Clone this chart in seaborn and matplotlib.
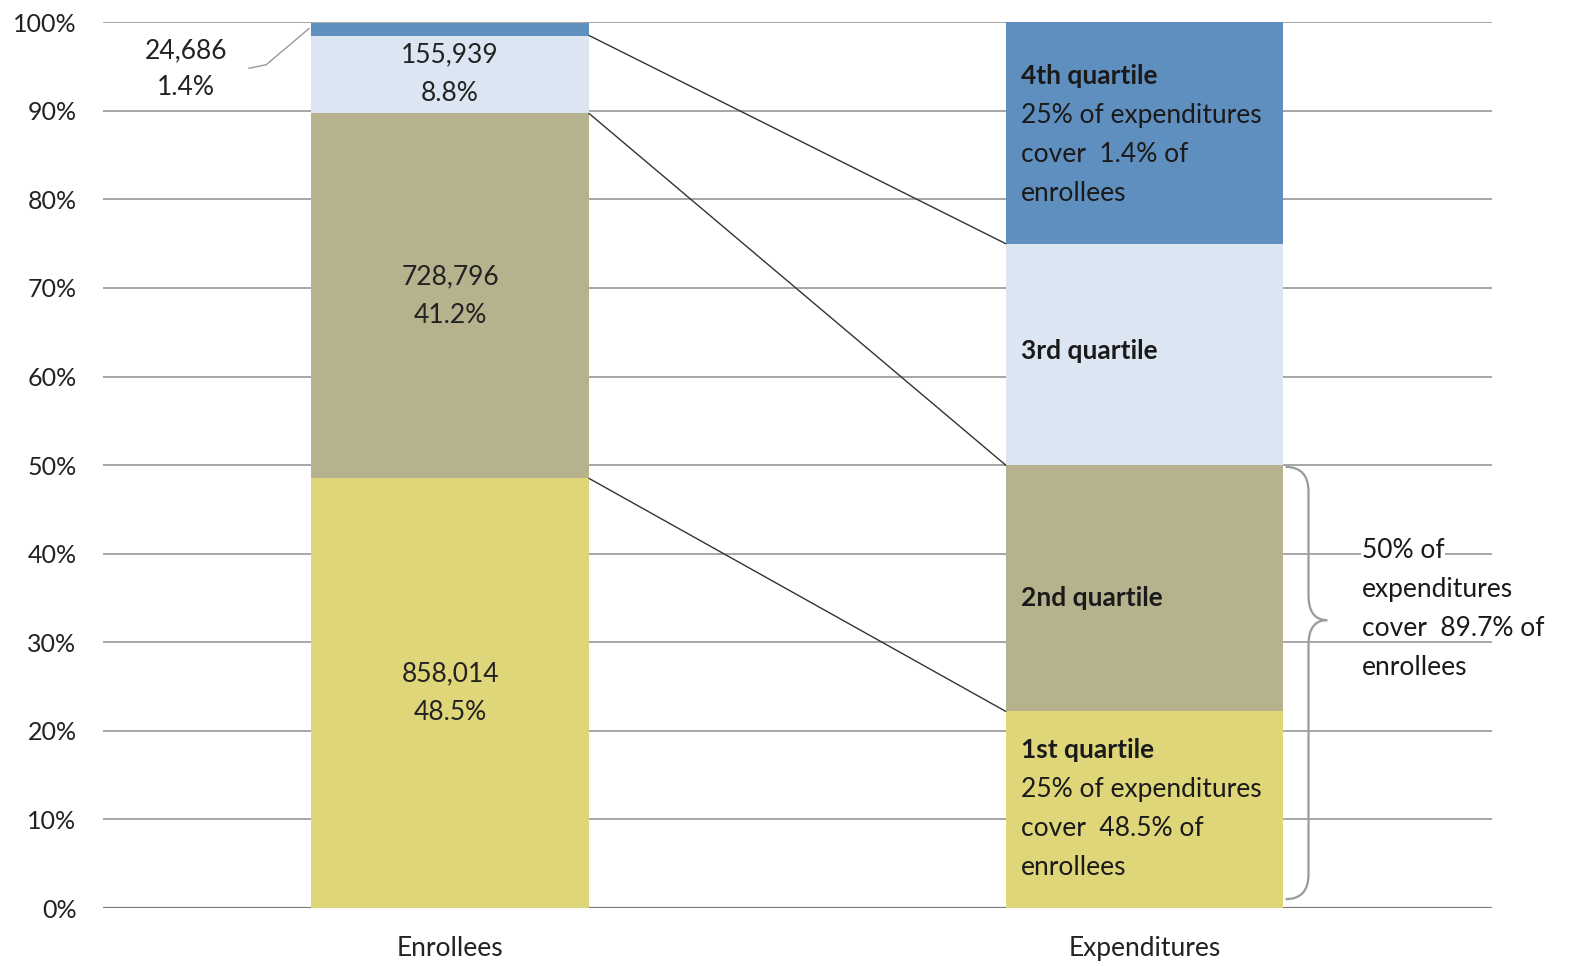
import matplotlib
matplotlib.use("Agg")
import matplotlib.pyplot as plt
from matplotlib.path import Path
from matplotlib.patches import PathPatch
import seaborn as sns
import pandas as pd
import numpy as np

# ---- data ----
bars = ["Enrollees", "Expenditures"]
quartiles = ["1st quartile", "2nd quartile", "3rd quartile", "4th quartile"]
enrollee_pct = [48.5, 41.2, 8.8, 1.4]
expenditure_pct = [22.2, 27.8, 25.0, 25.0]
enrollee_counts = ["858,014", "728,796", "155,939", "24,686"]
colors = ["#DFD67A", "#B5B28D", "#DCE6F2", "#5F8FBF"]
y_ticks = [0, 10, 20, 30, 40, 50, 60, 70, 80, 90, 100]
y_tick_labels = ["0%", "10%", "20%", "30%", "40%", "50%", "60%", "70%", "80%", "90%", "100%"]
exp_notes = {
    3: ["25% of expenditures", "cover  1.4% of", "enrollees"],
    0: ["25% of expenditures", "cover  48.5% of", "enrollees"],
}
brace_note = ["50% of", "expenditures", "cover  89.7% of", "enrollees"]

sns.set_theme(style="white")
plt.rcParams["font.family"] = ["Lato", "DejaVu Sans"]

fig = plt.figure(figsize=(15.72, 9.66), dpi=100)
ax = fig.add_axes([0.0655, 0.060, 0.8835, 0.917])

cum_enr = np.cumsum(enrollee_pct)
cum_exp = np.cumsum(expenditure_pct)

# stacked bars: draw cumulative tops from largest to smallest
for i in range(len(quartiles) - 1, -1, -1):
    df = pd.DataFrame({"bar": bars, "top": [cum_enr[i], cum_exp[i]]})
    sns.barplot(data=df, x="bar", y="top", order=bars, color=colors[i],
                saturation=1, width=0.4, ax=ax, linewidth=0, zorder=3)

ax.set_xlim(-0.5, 1.5)
ax.set_ylim(0, 100)
ax.set_yticks(y_ticks)
ax.set_yticklabels(y_tick_labels)
ax.set_xlabel("")
ax.set_ylabel("")
for s in ax.spines.values():
    s.set_visible(False)
ax.yaxis.grid(True, color="#a6a6a6", linewidth=1.4, zorder=0)
ax.set_axisbelow(True)
ax.axhline(0, color="#7a7a7a", linewidth=1.6, zorder=1)
ax.tick_params(axis="both", length=0, colors="#222222")
ax.tick_params(axis="y", pad=19, labelsize=18)
ax.tick_params(axis="x", pad=20, labelsize=19)

# connector lines between bars
for i in range(3):
    ax.plot([0.2, 0.8], [cum_enr[i], cum_exp[i]], color="#333333", lw=1.0, zorder=4)

# enrollee labels (inside bars)
fs = 19
for i in range(3):
    lo = cum_enr[i] - enrollee_pct[i]
    mid = (lo + cum_enr[i]) / 2
    ax.text(0, mid + 2.2, enrollee_counts[i], ha="center", va="center", fontsize=fs, color="#222222", zorder=5)
    ax.text(0, mid - 2.2, f"{enrollee_pct[i]}%", ha="center", va="center", fontsize=fs, color="#222222", zorder=5)
# small top segment labelled outside
ax.text(-0.38, 96.8, enrollee_counts[3], ha="center", va="center", fontsize=fs, color="#222222")
ax.text(-0.38, 92.6, f"{enrollee_pct[3]}%", ha="center", va="center", fontsize=fs, color="#222222")
ax.plot([-0.29, -0.265, -0.203], [94.8, 95.2, 99.3], color="#999999", lw=1.0)

# expenditure labels
step = 4.4
xl = 0.822
def block(x, ytop, title, lines):
    ax.text(x, ytop, title, ha="left", va="center", fontsize=fs, fontweight="bold", color="#1a1a1a", zorder=5)
    for k, ln in enumerate(lines):
        ax.text(x, ytop - step * (k + 1), ln, ha="left", va="center", fontsize=fs, color="#1a1a1a", zorder=5)

block(xl, 93.9, quartiles[3], exp_notes[3])
block(xl, 62.9, quartiles[2], [])
block(xl, 35.0, quartiles[1], [])
block(xl, 17.8, quartiles[0], exp_notes[0])

# curly brace for lower half of expenditures
xb0, xb1, xt = 1.203, 1.236, 1.263
yt, yb, ym = 49.8, 1.0, 32.5
r = 2.8
verts = [(xb0, yt), (xb1, yt), (xb1, yt - r),
         (xb1, ym + r), (xb1, ym), (xt, ym),
         (xb1, ym), (xb1, ym - r),
         (xb1, yb + r), (xb1, yb), (xb0, yb)]
codes = [Path.MOVETO, Path.CURVE3, Path.CURVE3,
         Path.LINETO, Path.CURVE3, Path.CURVE3,
         Path.CURVE3, Path.CURVE3,
         Path.LINETO, Path.CURVE3, Path.CURVE3]
ax.add_patch(PathPatch(Path(verts, codes), facecolor="none", edgecolor="#9a9a9a", lw=1.6, zorder=5))

for k, ln in enumerate(brace_note):
    ax.text(1.313, 40.4 - step * k, ln, ha="left", va="center", fontsize=fs, color="#1a1a1a",
            bbox=dict(facecolor="white", edgecolor="none", pad=0.5) if k == 0 else None)

fig.savefig("out.png", dpi=100, facecolor="white")
